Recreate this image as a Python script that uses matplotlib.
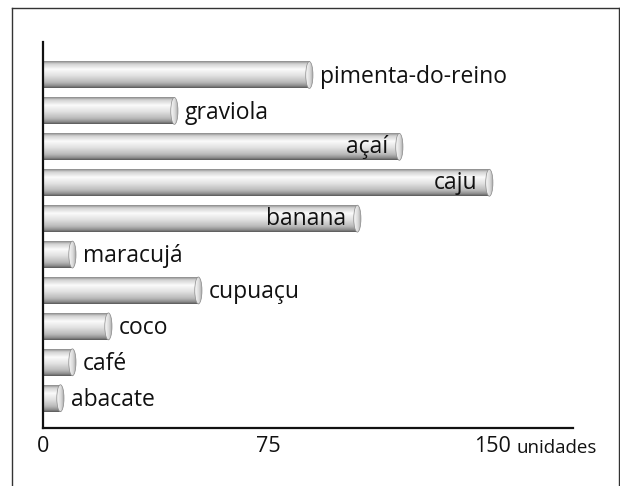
import numpy as np
import matplotlib
matplotlib.use("Agg")
import matplotlib.pyplot as plt
from matplotlib.colors import LinearSegmentedColormap
from matplotlib.patches import Ellipse
from matplotlib.lines import Line2D

# data (top to bottom)
produtos = ["pimenta-do-reino", "graviola", "açaí", "caju", "banana",
            "maracujá", "cupuaçu", "coco", "café", "abacate"]
valores = [90, 45, 120, 150, 106, 11, 53, 23, 11, 7]
x_ticks = [0, 75, 150]
x_tick_labels = ["0", "75", "150"]
unidade = "unidades"

plt.rcParams["font.family"] = ["Open Sans", "DejaVu Sans"]

fig = plt.figure(figsize=(6.2, 4.86), dpi=100)
ax = fig.add_axes([43 / 620, 1 - 428 / 486, (573 - 43) / 620, (428 - 42) / 486])

# cylinder shading, top to bottom
body_cmap = LinearSegmentedColormap.from_list("body", [
    (0.0, "#8c8c8c"), (0.1, "#d2d2d2"), (0.3, "#fbfbfb"),
    (0.55, "#e0e0e0"), (0.8, "#b8b8b8"), (0.92, "#8e8e8e"), (1.0, "#5a5a5a")])
cap_cmap = LinearSegmentedColormap.from_list("cap", ["#f6f6f6", "#dadada", "#9c9c9c"])
vgrad = np.linspace(0, 1, 64).reshape(-1, 1)
hgrad = np.linspace(0, 1, 32).reshape(1, -1)

bar_h = 0.75
cap_w = 2.4
for i, (nome, v) in enumerate(zip(produtos, valores)):
    top, bot = i - bar_h / 2, i + bar_h / 2
    ax.imshow(vgrad, extent=[0, v - cap_w / 2, bot, top], aspect="auto",
              cmap=body_cmap, interpolation="bilinear", zorder=2)
    cap = Ellipse((v - cap_w / 2, i), cap_w, bar_h, facecolor="none",
                  edgecolor="#8a8a8a", lw=0.5, zorder=4)
    ax.add_patch(cap)
    im = ax.imshow(hgrad, extent=[v - cap_w, v, bot, top], aspect="auto",
                   cmap=cap_cmap, interpolation="bilinear", zorder=3)
    im.set_clip_path(cap)
    # long bars carry their label inside
    if v > 100:
        ax.annotate(nome, xy=(v, i), xytext=(-11, -4.5), textcoords="offset points",
                    ha="right", va="baseline", fontsize=16.5, color="#111111", zorder=5)
    else:
        ax.annotate(nome, xy=(v, i), xytext=(5, -5.5), textcoords="offset points",
                    ha="left", va="baseline", fontsize=16.5, color="#111111", zorder=5)

ax.set_xlim(0, 176.7)
ax.set_ylim(9.83, -0.92)
ax.set_yticks([])
ax.set_xticks(x_ticks)
ax.set_xticklabels(x_tick_labels, fontsize=15.5, color="#111111")
ax.tick_params(axis="x", length=0, pad=5.5)
for s in ["top", "right"]:
    ax.spines[s].set_visible(False)
for s in ["left", "bottom"]:
    ax.spines[s].set_linewidth(1.6)
    ax.spines[s].set_color("#111111")
ax.patch.set_alpha(0)

ax.annotate(unidade, xy=(150, 0), xycoords=("data", "axes fraction"),
            xytext=(17, -18), textcoords="offset points", ha="left", va="baseline",
            fontsize=13.5, color="#111111")

# open frame around the figure
fc = "#333333"
fig.add_artist(Line2D([12 / 620, 12 / 620], [0, 1 - 8 / 486], color=fc, lw=1))
fig.add_artist(Line2D([12 / 620, 619 / 620], [1 - 8 / 486, 1 - 8 / 486], color=fc, lw=1))
fig.add_artist(Line2D([619 / 620, 619 / 620], [0, 1 - 8 / 486], color=fc, lw=1))

fig.savefig("out.png", dpi=100)
